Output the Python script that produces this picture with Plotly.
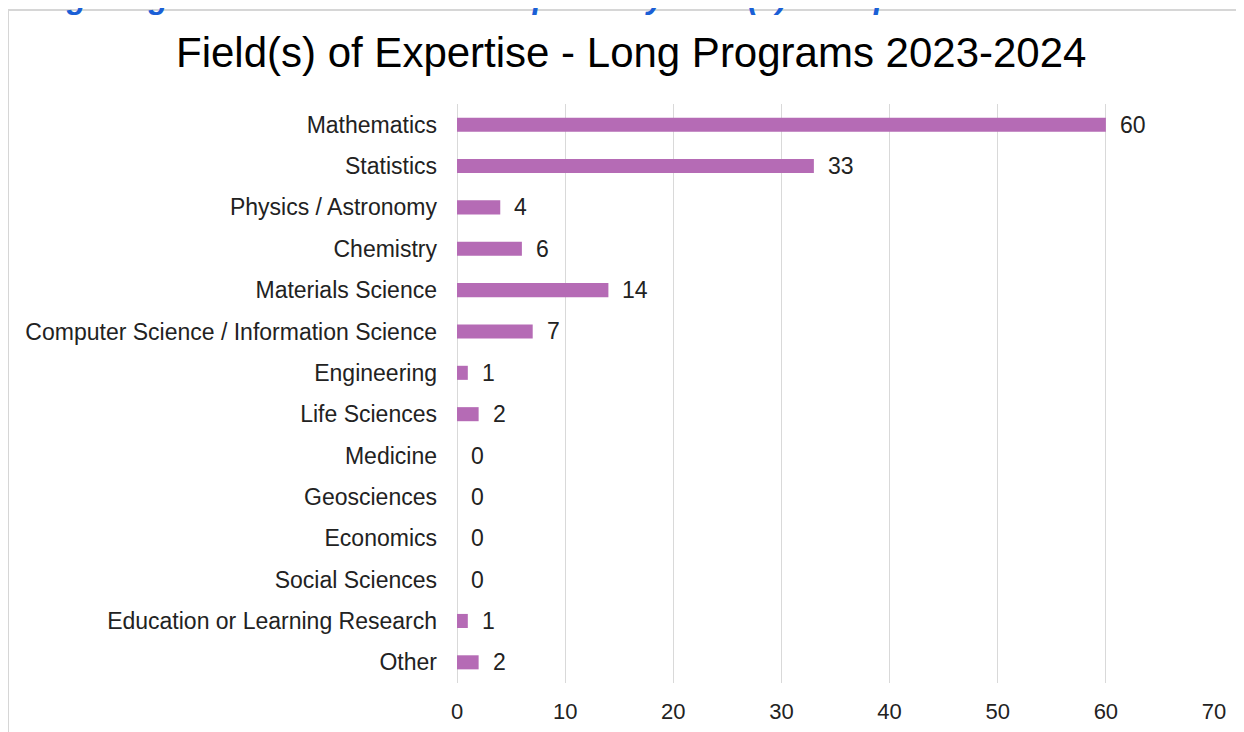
import plotly.graph_objects as go

categories = [
    "Mathematics", "Statistics", "Physics / Astronomy", "Chemistry",
    "Materials Science", "Computer Science / Information Science",
    "Engineering", "Life Sciences", "Medicine", "Geosciences",
    "Economics", "Social Sciences", "Education or Learning Research", "Other",
]
values = [60, 33, 4, 6, 14, 7, 1, 2, 0, 0, 0, 0, 1, 2]
x_ticks = [0, 10, 20, 30, 40, 50, 60, 70]

title_text = "Field(s) of Expertise - Long Programs 2023-2024"
heading_text = "Long Programs 2023-2024 - Participants by Field(s) of Expertise"

# page offset (browser body margin)
OFF = 8
W, H = 1244, 732
# desired plot area in page pixels: x 457..1214, y 104..683
L = 457 - OFF
T = 104 - OFF
R = W - (1214 - OFF)
B = H - (683 - OFF)
PW, PH = W - L - R, H - T - B

def px(x):
    return (x - OFF - L) / PW

def py(y):
    return (H - B - (y - OFF)) / PH

BAR = "#b56bb5"
FONT = "Liberation Sans, Arial, sans-serif"
FS = 23

fig = go.Figure(go.Bar(
    y=categories, x=values, orientation="h",
    marker=dict(color=BAR, line=dict(width=0)),
    width=0.34, hoverinfo="skip",
))

annotations = []
for c, v in zip(categories, values):
    annotations.append(dict(
        x=v, y=c, xref="x", yref="y", text=str(v), showarrow=False,
        xanchor="left", yanchor="middle", xshift=12,
        font=dict(size=FS, color="#222222", family=FONT),
    ))

annotations.append(dict(
    x=px(631), y=py(52), xref="paper", yref="paper", text=title_text,
    showarrow=False, xanchor="center", yanchor="middle",
    font=dict(size=42, color="#000000", family=FONT),
))
annotations.append(dict(
    x=px(6), y=py(-3), xref="paper", yref="paper",
    text="<b><i>" + heading_text + "</i></b>",
    showarrow=False, xanchor="left", yanchor="middle",
    font=dict(size=32, color="#1a5fd6", family=FONT),
))

shapes = [
    dict(type="line", xref="paper", yref="paper", x0=px(8), x1=px(1260), y0=py(10), y1=py(10),
         line=dict(color="#d6d6d6", width=2), layer="below"),
    dict(type="line", xref="paper", yref="paper", x0=px(8), x1=px(8), y0=py(10), y1=py(760),
         line=dict(color="#d6d6d6", width=2), layer="below"),
]

fig.update_layout(
    width=W, height=H,
    margin=dict(l=L, r=R, t=T, b=B),
    paper_bgcolor="white", plot_bgcolor="white",
    showlegend=False,
    annotations=annotations,
    shapes=shapes,
    xaxis=dict(
        range=[0, 70], tickvals=x_ticks, ticktext=[str(t) for t in x_ticks],
        showgrid=True, gridcolor="#d9d9d9", gridwidth=1,
        zeroline=True, zerolinecolor="#d9d9d9", zerolinewidth=1,
        showline=False, ticks="", ticklabelstandoff=13,
        tickfont=dict(size=FS - 1, color="#222222", family=FONT),
        fixedrange=True,
    ),
    yaxis=dict(
        autorange="reversed", showgrid=False, zeroline=False, showline=False,
        ticks="", ticklabelstandoff=19,
        tickfont=dict(size=FS, color="#222222", family=FONT),
        fixedrange=True,
    ),
)

fig.write_html("out.html", config={"displayModeBar": False})
